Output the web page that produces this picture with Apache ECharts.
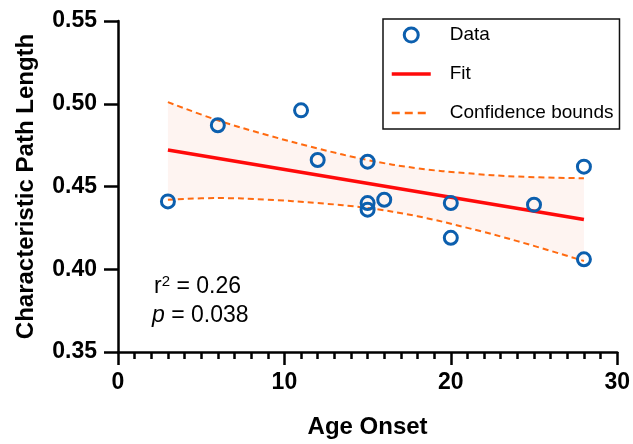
<!DOCTYPE html>
<html>
<head>
<meta charset="utf-8">
<script src="https://cdn.jsdelivr.net/npm/echarts@6/dist/echarts.min.js"></script>
<style>
  html, body { margin: 0; padding: 0; background: #fff; }
  #chart { width: 633px; height: 444px; }
</style>
</head>
<body>
<div id="chart"></div>
<script>
// points
const ageOnset = [3, 6, 11, 12, 15, 15, 15, 16, 20, 20, 25, 28, 28];
const pathLength = [0.441, 0.487, 0.496, 0.466, 0.465, 0.440, 0.436, 0.442, 0.440, 0.419, 0.439, 0.462, 0.406];

// regression line ends
const fitX = [3, 28];
const fitY = [0.472, 0.430];

// confidence bounds, sampled along the curves
const boundX = [3, 6, 9, 12, 15, 18, 21, 24, 28];
const upperBound = [0.501, 0.490, 0.481, 0.473, 0.466, 0.461, 0.458, 0.456, 0.455];
const lowerBound = [0.442, 0.443, 0.442, 0.440, 0.437, 0.432, 0.425, 0.417, 0.405];

const xTicks = [0, 10, 20, 30];
const yTicks = [0.35, 0.40, 0.45, 0.50, 0.55];

const FONT = '"Liberation Sans", Arial, Helvetica, sans-serif';
const BLUE = '#0c5fae';
const RED = '#ff0a0a';
const ORANGE = '#ff6a10';
const NO_DOT = { color: 'rgba(0,0,0,0)', borderWidth: 0 };

var myChart = echarts.init(document.getElementById('chart'));

myChart.setOption({
  animation: false,
  backgroundColor: '#fff',
  grid: { left: 118, right: 15, top: 21, bottom: 89 },
  xAxis: {
    type: 'value',
    min: xTicks[0],
    max: xTicks[xTicks.length - 1],
    interval: 10,
    name: 'Age Onset',
    nameLocation: 'middle',
    nameGap: 63,
    nameTextStyle: { fontFamily: FONT, fontSize: 24, fontWeight: 'bold', color: '#000' },
    axisLine: { lineStyle: { color: '#000', width: 2.5 } },
    axisTick: { length: 13, lineStyle: { color: '#000', width: 2.5 } },
    minorTick: { show: true, splitNumber: 10, length: 7, lineStyle: { color: '#000', width: 2.5 } },
    axisLabel: { margin: 19, fontFamily: FONT, fontSize: 23, fontWeight: 'bold', color: '#000' },
    splitLine: { show: false }
  },
  yAxis: {
    type: 'value',
    min: yTicks[0],
    max: yTicks[yTicks.length - 1],
    interval: 0.05,
    name: 'Characteristic Path Length',
    nameLocation: 'middle',
    nameGap: 80,
    nameTextStyle: { fontFamily: FONT, fontSize: 24, fontWeight: 'bold', color: '#000' },
    axisLine: { show: true, lineStyle: { color: '#000', width: 2.5 } },
    axisTick: { show: true, length: 14, lineStyle: { color: '#000', width: 2.5 } },
    axisLabel: {
      margin: 21, fontFamily: FONT, fontSize: 23, fontWeight: 'bold', color: '#000',
      formatter: v => v.toFixed(2)
    },
    splitLine: { show: false }
  },
  legend: {
    orient: 'vertical',
    left: 383,
    top: 19,
    padding: [6, 6, 6, 7],
    borderColor: '#111',
    borderWidth: 1.5,
    backgroundColor: '#fff',
    itemWidth: 39,
    itemHeight: 14,
    itemGap: 19,
    textStyle: { fontFamily: FONT, fontSize: 19, lineHeight: 20, color: '#000', padding: [0, 0, 0, 14] },
    data: [
      { name: 'Data', icon: 'circle', itemStyle: { color: 'rgba(0,0,0,0)', borderColor: BLUE, borderWidth: 3 } },
      { name: 'Fit', itemStyle: NO_DOT, lineStyle: { color: RED, width: 3.5 } },
      { name: 'Confidence bounds', itemStyle: NO_DOT, lineStyle: { color: ORANGE, width: 2.5, type: [8, 5] } }
    ]
  },
  graphic: [
    {
      type: 'text', left: 154, top: 274,
      style: {
        text: '{a|r}{s|2}{a| = 0.26}',
        rich: {
          a: { fontFamily: FONT, fontSize: 23, lineHeight: 26, color: '#000' },
          s: { fontFamily: FONT, fontSize: 15, lineHeight: 24, verticalAlign: 'top', color: '#000' }
        }
      }
    },
    {
      type: 'text', left: 152, top: 304,
      style: {
        text: '{p|p}{a| = 0.038}',
        rich: {
          p: { fontFamily: FONT, fontSize: 23, lineHeight: 26, fontStyle: 'italic', color: '#000' },
          a: { fontFamily: FONT, fontSize: 23, lineHeight: 26, color: '#000' }
        }
      }
    }
  ],
  series: [
    {
      // shaded band between the bounds
      type: 'custom',
      silent: true,
      z: 1,
      data: boundX.map((x, i) => [x, upperBound[i]]),
      renderItem: function (params, api) {
        if (params.dataIndex !== 0) return;
        var pts = [];
        for (var i = 0; i < boundX.length; i++) pts.push(api.coord([boundX[i], upperBound[i]]));
        for (var j = boundX.length - 1; j >= 0; j--) pts.push(api.coord([boundX[j], lowerBound[j]]));
        return { type: 'polygon', shape: { points: pts }, style: { fill: '#fef4f1' } };
      }
    },
    {
      name: 'Confidence bounds',
      type: 'line',
      z: 3,
      symbol: 'none',
      smooth: 0.4,
      data: boundX.map((x, i) => [x, upperBound[i]]),
      lineStyle: { color: ORANGE, width: 2, type: [6, 4] }
    },
    {
      name: 'Confidence bounds',
      type: 'line',
      z: 3,
      symbol: 'none',
      smooth: 0.4,
      data: boundX.map((x, i) => [x, lowerBound[i]]),
      lineStyle: { color: ORANGE, width: 2, type: [6, 4] }
    },
    {
      name: 'Fit',
      type: 'line',
      z: 4,
      symbol: 'none',
      data: fitX.map((x, i) => [x, fitY[i]]),
      lineStyle: { color: RED, width: 3.5 }
    },
    {
      name: 'Data',
      type: 'scatter',
      z: 5,
      symbol: 'circle',
      symbolSize: 13,
      data: ageOnset.map((x, i) => [x, pathLength[i]]),
      itemStyle: { color: 'rgba(0,0,0,0)', borderColor: BLUE, borderWidth: 3, opacity: 1 }
    }
  ]
});
</script>
</body>
</html>
